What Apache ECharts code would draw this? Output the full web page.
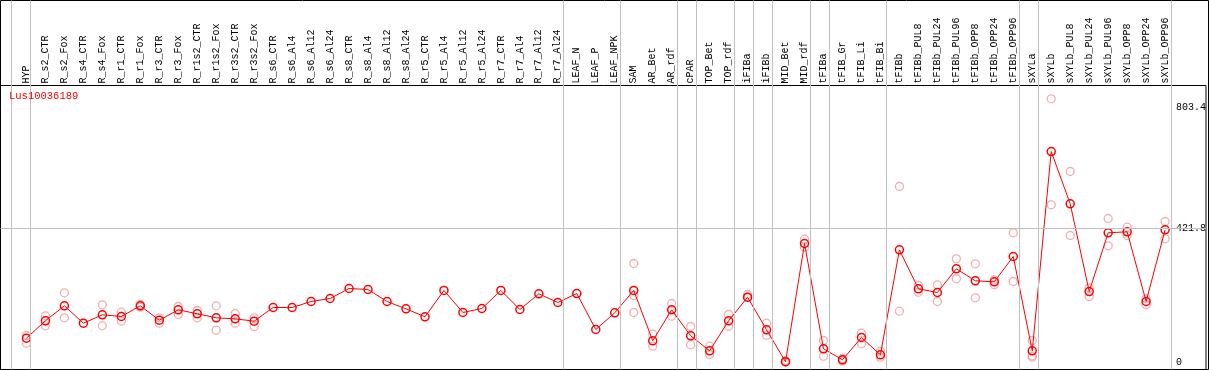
<!DOCTYPE html>
<html>
<head>
<meta charset="utf-8">
<script src="https://cdn.jsdelivr.net/npm/echarts@6/dist/echarts.min.js"></script>
<style>
  html, body { margin: 0; padding: 0; background: #fff; }
  #chart { width: 1209px; height: 370px; }
</style>
</head>
<body>
<div id="chart"></div>
<script>
var geneName = 'Lus10036189';

var categories = ['HYP', 'R_s2_CTR', 'R_s2_Fox', 'R_s4_CTR', 'R_s4_Fox', 'R_r1_CTR', 'R_r1_Fox',
  'R_r3_CTR', 'R_r3_Fox', 'R_r1s2_CTR', 'R_r1s2_Fox', 'R_r3s2_CTR', 'R_r3s2_Fox',
  'R_s6_CTR', 'R_s6_Al4', 'R_s6_Al12', 'R_s6_Al24', 'R_s8_CTR', 'R_s8_Al4', 'R_s8_Al12', 'R_s8_Al24',
  'R_r5_CTR', 'R_r5_Al4', 'R_r5_Al12', 'R_r5_Al24', 'R_r7_CTR', 'R_r7_Al4', 'R_r7_Al12', 'R_r7_Al24',
  'LEAF_N', 'LEAF_P', 'LEAF_NPK', 'SAM', 'AR_Bet', 'AR_rdf', 'cPAR', 'TOP_Bet', 'TOP_rdf',
  'iFIBa', 'iFIBb', 'MID_Bet', 'MID_rdf', 'tFIBa', 'tFIB_Gr', 'tFIB_Li', 'tFIB_Bi',
  'tFIBb', 'tFIBb_PUL8', 'tFIBb_PUL24', 'tFIBb_PUL96', 'tFIBb_OPP8', 'tFIBb_OPP24', 'tFIBb_OPP96',
  'sXYLa', 'sXYLb', 'sXYLb_PUL8', 'sXYLb_PUL24', 'sXYLb_PUL96', 'sXYLb_OPP8', 'sXYLb_OPP24', 'sXYLb_OPP96'];

// mean expression per sample
var meanValues = [75.6, 130.4, 177.7, 122.9, 149.3, 144.0, 177.7, 132.3, 165.1, 152.5, 139.9, 136.7, 129.2,
  172.3, 172.3, 191.2, 200.7, 232.2, 229.1, 191.2, 168.2, 143.0, 226.0, 156.6, 169.2, 226.0, 166.0, 215.5, 188.1,
  216.4, 103.0, 155.6, 226.0, 67.4, 165.1, 83.2, 35.9, 130.4, 204.8, 102.1, 1.5, 374.0, 42.2, 7.6, 77.8, 23.3,
  354.1, 231.3, 219.6, 294.3, 256.5, 253.3, 333.0, 35.9, 663.8, 499.1, 222.7, 407.7, 410.8, 191.2, 417.1];

// replicates (null = not visible)
var rep1 = [84.1, 146.2, 218.7, null, 180.8, 157.5, 181.8, 139.9, 175.5, 162.9, 177.7, 153.4, 139.9,
  null, null, null, null, null, null, null, null, null, null, null, null, null, null, null, null,
  null, null, null, 311.0, 88.2, 184.9, 112.5, 50.4, 150.3, 213.3, 122.9, 5.0, 387.5, 68.4, 11.7, 91.4, 34.7,
  553.6, 241.7, 243.9, 325.8, 310.0, 259.6, 407.7, 68.4, 829.9, 600.8, 234.4, 452.7, 425.3, 199.7, 443.3];
var rep2 = [59.9, 114.7, 139.9, null, 114.7, 129.2, 173.9, 122.9, 150.3, 139.9, 100.8, 122.9, 112.5,
  null, null, null, null, null, null, null, null, null, null, null, null, null, null, null, null,
  null, null, null, 156.6, 50.4, 144.9, 54.8, 24.3, 113.4, 203.8, 85.1, 0.0, 362.3, 18.9, 3.8, 58.0, 15.8,
  160.7, 220.5, 191.2, 262.8, 202.9, 243.9, 254.3, 20.2, 495.9, 399.2, 207.0, 366.7, 399.2, 180.8, 388.8];
var rep3 = [null, null, null, null, null, null, null, null, null, null, null, null, null,
  null, null, null, null, null, null, null, null, null, null, null, null, null, null, null, null,
  null, null, null, 210.1, null, null, null, null, null, null, null, null, null, null, null, null, null,
  null, null, null, null, null, null, null, 15.8, null, null, null, null, null, null, null];

// last sample index of each tissue group (-1 = before the first)
var groupEnds = [-1, 0, 28, 31, 34, 35, 37, 38, 39, 41, 42, 45, 52, 53, 60];
var yLabels = [0, 421.8, 803.4];
var gridLineValue = 421.8;

var xMin = -1.367, xMax = 62.155;
var yMin = -23.0, yMax = 871.8;
var mono = 'Liberation Mono';

function toPoints(arr) {
  var out = [];
  arr.forEach(function (v, i) { if (v != null) out.push([i, v]); });
  return out;
}

var repStyle = { color: 'rgba(0,0,0,0)', borderColor: '#f09a9a', borderWidth: 1.3 };

var chart = echarts.init(document.getElementById('chart'));
chart.setOption({
  animation: false,
  backgroundColor: '#fff',
  title: {
    text: geneName, left: 9, top: 91, padding: 0,
    textStyle: { color: '#ff0000', fontSize: 10.5, fontWeight: 'normal', fontFamily: mono }
  },
  grid: [
    { left: 0.5, top: 0.5, width: 1208, height: 369, show: true, borderColor: '#000', borderWidth: 1, backgroundColor: 'rgba(0,0,0,0)' },
    { left: 0.5, top: 85.5, width: 1208, height: 284, show: true, borderColor: '#000', borderWidth: 1, backgroundColor: 'rgba(0,0,0,0)' }
  ],
  xAxis: [
    { gridIndex: 0, type: 'value', min: xMin, max: xMax, show: false },
    {
      gridIndex: 1, type: 'value', min: xMin, max: xMax, position: 'top',
      axisLine: { show: false }, axisTick: { show: false }, splitLine: { show: false },
      axisLabel: {
        customValues: categories.map(function (c, i) { return i; }),
        formatter: function (v) { return categories[v]; },
        rotate: 90, margin: 2, fontSize: 10, fontFamily: mono, color: '#000'
      }
    }
  ],
  yAxis: [
    { gridIndex: 0, type: 'value', min: 0, max: 1, show: false },
    {
      gridIndex: 1, type: 'value', min: yMin, max: yMax, position: 'right',
      axisLine: { show: false }, axisTick: { show: false }, splitLine: { show: false },
      axisLabel: {
        inside: true, customValues: yLabels, align: 'left', margin: 30,
        formatter: function (v) { return String(v); },
        fontSize: 10, fontFamily: mono, color: '#000'
      }
    }
  ],
  series: [
    {
      type: 'line', xAxisIndex: 0, yAxisIndex: 0, data: [], silent: true, z: 1,
      markLine: {
        silent: true, symbol: 'none', label: { show: false },
        lineStyle: { color: '#c0c0c0', width: 1, type: 'solid' },
        data: groupEnds.map(function (e) { return { xAxis: e + 0.2 }; })
      }
    },
    {
      type: 'scatter', xAxisIndex: 1, yAxisIndex: 1, data: toPoints(rep1), symbolSize: 8, itemStyle: repStyle, z: 2,
      markLine: {
        silent: true, symbol: 'none', label: { show: false },
        lineStyle: { color: '#c0c0c0', width: 1, type: 'solid' },
        data: [{ yAxis: gridLineValue }]
      }
    },
    { type: 'scatter', xAxisIndex: 1, yAxisIndex: 1, data: toPoints(rep2), symbolSize: 8, itemStyle: repStyle, z: 2 },
    { type: 'scatter', xAxisIndex: 1, yAxisIndex: 1, data: toPoints(rep3), symbolSize: 8, itemStyle: repStyle, z: 2 },
    {
      type: 'line', xAxisIndex: 1, yAxisIndex: 1, data: toPoints(meanValues), z: 3,
      showAllSymbol: true, symbol: 'circle', symbolSize: 8,
      lineStyle: { color: '#ff0000', width: 1 },
      itemStyle: { color: 'rgba(0,0,0,0)', borderColor: '#ff0000', borderWidth: 1.5 }
    }
  ]
});
</script>
</body>
</html>
